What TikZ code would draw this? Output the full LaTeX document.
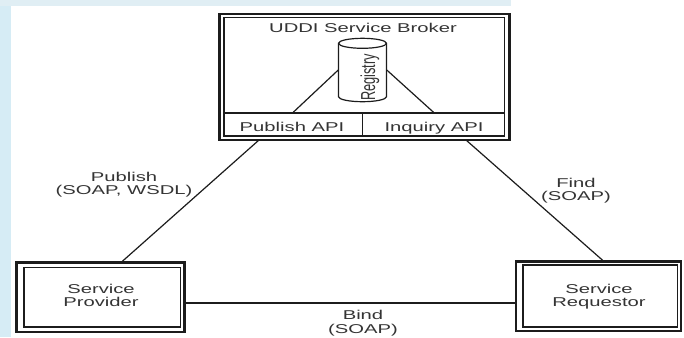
\documentclass[tikz,border=0pt]{standalone}
\usepackage{fontspec}
\setmainfont{Liberation Sans}[FakeStretch=1.58]
\newfontfamily\plainsans{Liberation Sans}
\usetikzlibrary{fit}
\definecolor{ink}{RGB}{28,28,28}
\definecolor{txt}{RGB}{52,52,52}
\definecolor{paleblue}{RGB}{214,236,245}
\definecolor{stripblue}{RGB}{224,238,244}

\begin{document}
\begin{tikzpicture}[x=0.75pt,y=-0.75pt,
  txtnode/.style={font=\fontsize{9.6}{10}\selectfont, text=txt, inner sep=0pt, align=center},
  outerframe/.style={draw=ink, line width=1.8pt, inner sep=0pt},
  innerframe/.style={draw=ink, line width=1.1pt, inner sep=0pt},
  conn/.style={draw=ink, line width=0.9pt}]

% page and background bands
\useasboundingbox (0,0) rectangle (684,337);
\fill[white] (0,0) rectangle (684,337);
\fill[paleblue] (0,0) rectangle (11,337);
\fill[stripblue] (0,0) rectangle (511,6);

% UDDI broker
\node[outerframe, fit={(219.5,14) (509.5,140)}] (broker) {};
\node[innerframe, fit={(224,17.5) (504.5,136)}] (brokerin) {};
\node[txtnode, anchor=base] (brokertitle) at (363,32.3) {UDDI Service Broker};
\node[innerframe, fit={(224,113) (362.5,136)}] (pubapi) {};
\node[innerframe, fit={(362.5,113) (504.5,136)}] (inqapi) {};
\node[txtnode, anchor=base] (pubapitext) at (292,131.7) {Publish API};
\node[txtnode, anchor=base] (inqapitext) at (434,131.7) {Inquiry API};

% registry cylinder
\filldraw[draw=ink, fill=white, line width=0.9pt]
  (338.5,43.3) -- (338.5,96.7)
  arc[start angle=180, end angle=360, x radius=18pt, y radius=3.75pt]
  -- (386.5,43.3)
  arc[start angle=0, end angle=180, x radius=18pt, y radius=3.75pt] -- cycle;
\draw[draw=ink, line width=0.9pt] (338.5,43.3)
  arc[start angle=180, end angle=360, x radius=18pt, y radius=3.75pt];
\node[fit={(338.5,38.3) (386.5,101.7)}, inner sep=0pt] (reg) {};
\begin{scope}[shift={(375,77.5)}]
  \node[txtnode, font=\plainsans\fontsize{9.6}{10}\selectfont, anchor=base,
        xscale=1.58, rotate=90, transform shape] (regtext) at (0,0) {Registry};
\end{scope}
\draw[conn] (reg.west) -- (pubapi.north);
\draw[conn] (reg.east) -- (inqapi.north);

% provider and requestor (two-line labels: base is the last line)
\node[outerframe, fit={(16.5,262.5) (184.5,332)}] (provider) {};
\node[innerframe, fit={(24,267.5) (180.5,327)}] (providerin) {};
\node[txtnode, anchor=base] (providertext) at (101,306.7) {Service\\Provider};

\node[outerframe, fit={(516,261.5) (681,331)}] (requestor) {};
\node[innerframe, fit={(523,265) (677.5,327)}] (requestorin) {};
\node[txtnode, anchor=base] (requestortext) at (599,306.7) {Service\\Requestor};

% connectors between the parties
\coordinate (pubA) at (259,140);
\coordinate (pubB) at (121,262.5);
\coordinate (findA) at (466,140);
\coordinate (findB) at (604,261.5);
\coordinate (bindy) at (0,303);
\draw[conn] (pubA) -- (pubB);
\draw[conn] (findA) -- (findB);
\draw[conn] (provider.east |- bindy) -- (requestor.west |- bindy);

\node[txtnode, anchor=base] (publishlabel) at (124,194.5) {Publish\\(SOAP, WSDL)};
\node[txtnode, anchor=base] (findlabel) at (576,200.8) {Find\\(SOAP)};
\node[txtnode, anchor=base] (bindlabel) at (363,333) {Bind\\(SOAP)};
\end{tikzpicture}
\end{document}
